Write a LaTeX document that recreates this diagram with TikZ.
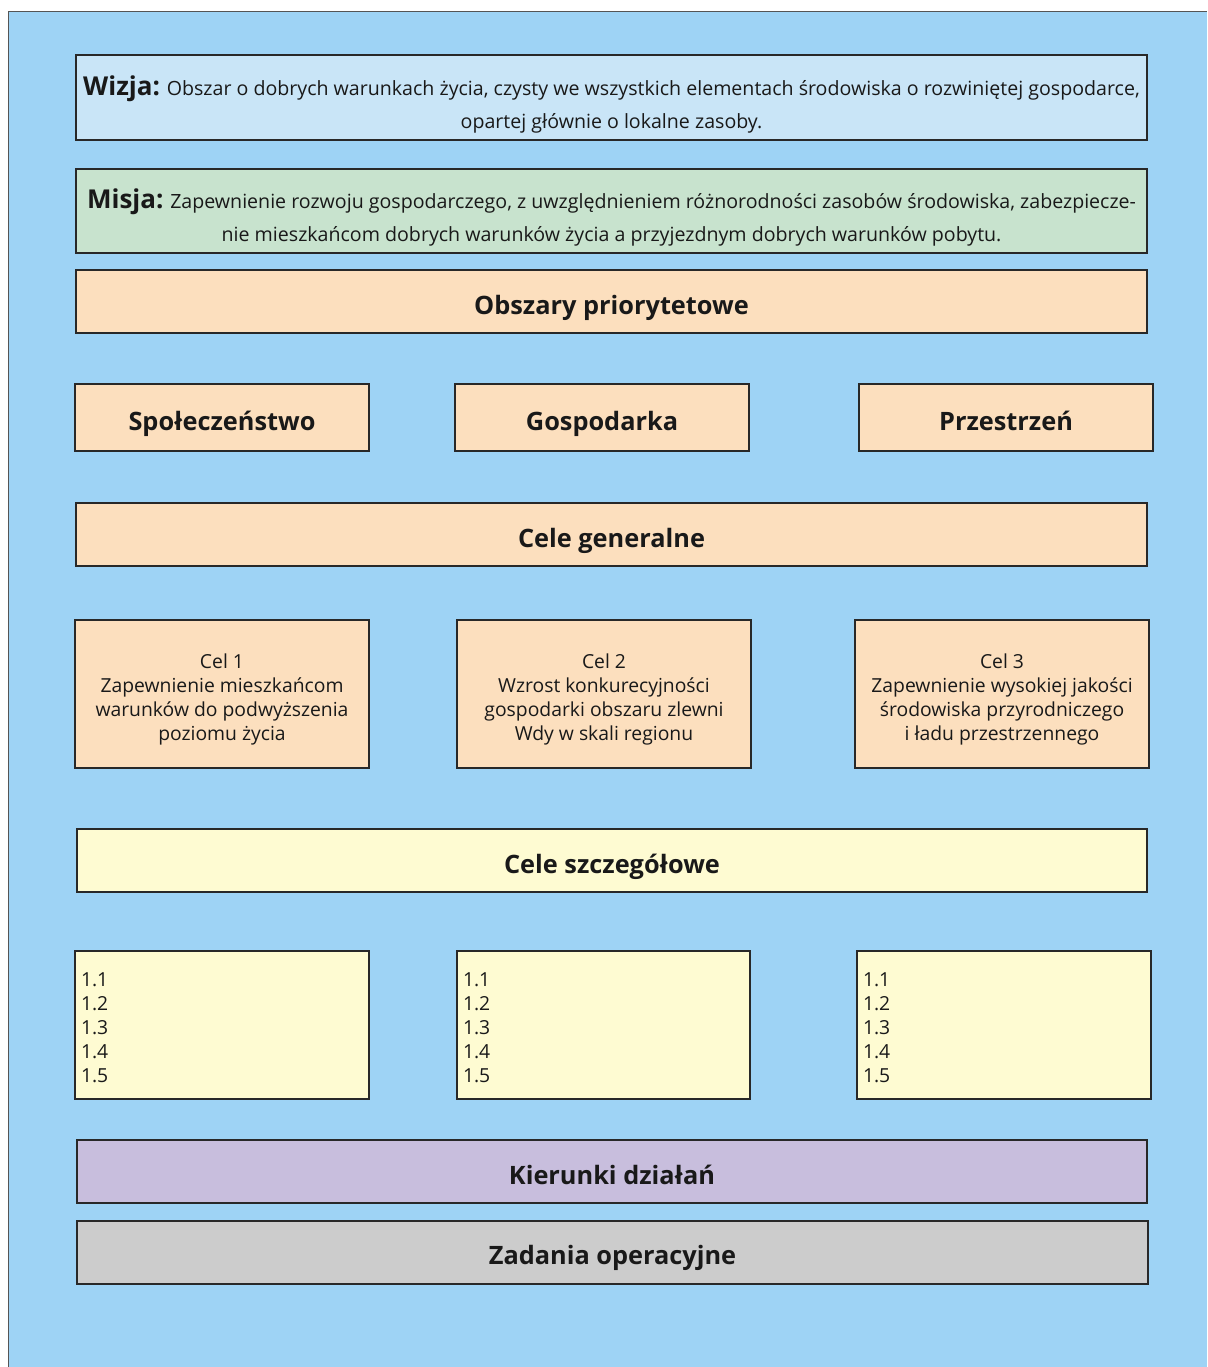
\documentclass[tikz,border=0pt]{standalone}
\usepackage{fontspec}
\setmainfont{Open Sans}
\definecolor{bgblue}{RGB}{158,211,245}
\definecolor{wizjac}{RGB}{201,229,247}
\definecolor{misjac}{RGB}{200,227,206}
\definecolor{peach}{RGB}{252,223,190}
\definecolor{lyellow}{RGB}{254,251,210}
\definecolor{lpurple}{RGB}{200,190,221}
\definecolor{lgray}{RGB}{204,204,204}
\definecolor{edge}{RGB}{40,40,40}
\definecolor{frameedge}{RGB}{85,85,85}
\def\px{0.75pt}
\newcommand{\topstrut}[1]{\rule{0pt}{#1}}
\tikzset{
  frame/.style={draw=edge, line width=1.1pt, rectangle, inner sep=0pt, text=black!90},
  wide/.style={frame, minimum width=1071*\px, minimum height=63*\px, text height=18.8pt, text depth=0pt, font=\fontsize{19}{23}\selectfont\bfseries},
  cat/.style={frame, fill=peach, minimum width=294*\px, minimum height=67*\px, text height=20pt, text depth=0pt, font=\fontsize{19}{23}\selectfont\bfseries},
  goal/.style={frame, fill=peach, minimum width=294*\px, minimum height=148*\px, align=center, font=\fontsize{14.5}{18}\selectfont},
  listbox/.style={frame, fill=lyellow, text width=282*\px, inner xsep=6*\px, minimum height=148*\px, align=left, font=\fontsize{14.5}{18}\selectfont},
  head/.style={frame, minimum width=1071*\px, minimum height=85*\px, align=center, font=\fontsize{14.7}{24.75}\selectfont},
}
\begin{document}
\begin{tikzpicture}[x=0.75pt,y=-0.75pt]
\useasboundingbox (0,0) rectangle (1207,1367);
\fill[bgblue] (8.5,11.5) rectangle (1207,1367);
\draw[frameedge, line width=1.3pt] (8.5,1367) -- (8.5,11.5) -- (1207,11.5);

\node[head, fill=wizjac] (wizja) at (611.5,97.5)
  {\topstrut{25.5pt}{\fontsize{19.5}{22}\selectfont\bfseries Wizja:} Obszar o dobrych warunkach życia, czysty we wszystkich elementach środowiska o rozwiniętej gospodarce,\\opartej głównie o lokalne zasoby.};
\node[head, fill=misjac, minimum height=84*\px] (misja) at (611.5,211)
  {\topstrut{24pt}{\fontsize{19.5}{22}\selectfont\bfseries Misja:} Zapewnienie rozwoju gospodarczego, z uwzględnieniem różnorodności zasobów środowiska, zabezpiecze-\\nie mieszkańcom dobrych warunków życia a przyjezdnym dobrych warunków pobytu.};

\node[wide, fill=peach] (obszary) at (611.5,301.5) {Obszary priorytetowe};

\node[cat] (spol) at (222,417.5) {Społeczeństwo};
\node[cat] (gosp) at (602,417.5) {Gospodarka};
\node[cat] (przes) at (1006,417.5) {Przestrzeń};

\node[wide, fill=peach] (celegen) at (611.5,534.5) {Cele generalne};

\node[goal] (cel1) at (222,694) {\topstrut{18.5pt}Cel 1\\Zapewnienie mieszkańcom\\warunków do podwyższenia\\poziomu życia};
\node[goal] (cel2) at (604,694) {\topstrut{18.5pt}Cel 2\\Wzrost konkurecyjności\\gospodarki obszaru zlewni\\Wdy w skali regionu};
\node[goal] (cel3) at (1002,694) {\topstrut{18.5pt}Cel 3\\Zapewnienie wysokiej jakości\\środowiska przyrodniczego\\i ładu przestrzennego};

\node[wide, fill=lyellow, minimum width=1070*\px] (celeszcz) at (612,860.5) {Cele szczegółowe};

\node[listbox] (lista1) at (222,1025) {\topstrut{14.6pt}1.1\\1.2\\1.3\\1.4\\1.5};
\node[listbox, text width=281*\px] (lista2) at (603.5,1025) {\topstrut{14.6pt}1.1\\1.2\\1.3\\1.4\\1.5};
\node[listbox] (lista3) at (1004,1025) {\topstrut{14.6pt}1.1\\1.2\\1.3\\1.4\\1.5};

\node[wide, fill=lpurple, minimum width=1070*\px] (kier) at (612,1171.5) {Kierunki działań};
\node[wide, fill=lgray, minimum width=1071*\px, text height=18pt] (zad) at (612.5,1252.5) {Zadania operacyjne};
\end{tikzpicture}
\end{document}
